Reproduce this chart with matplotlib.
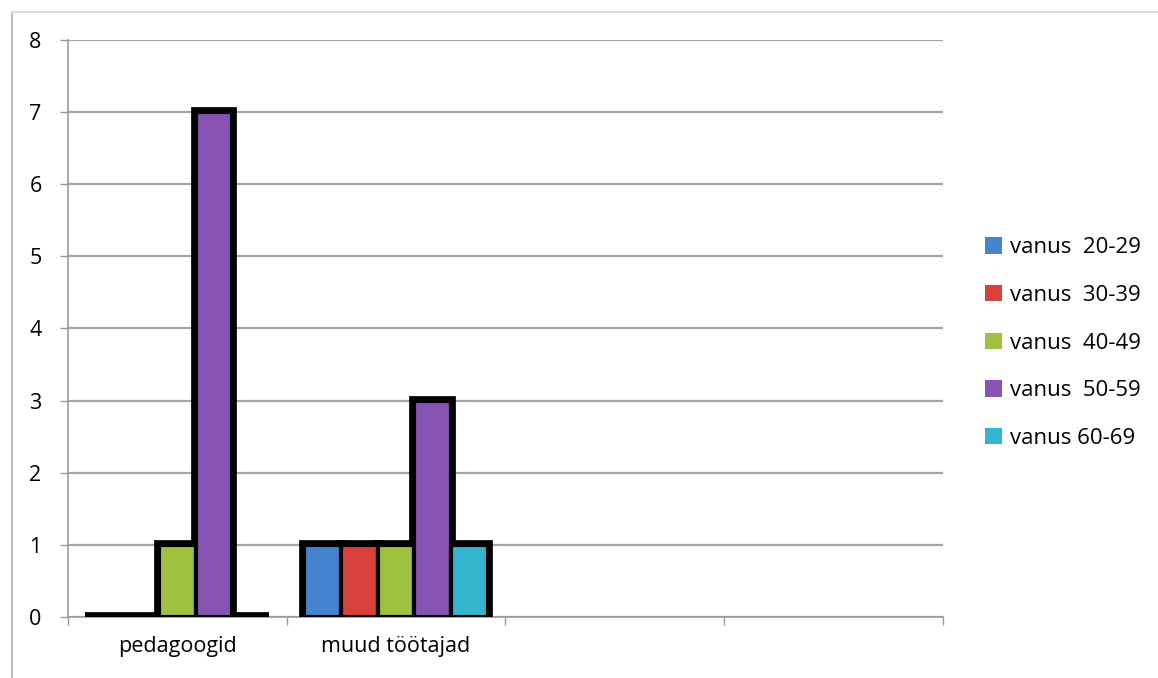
import numpy as np
import matplotlib.pyplot as plt
from matplotlib.lines import Line2D

plt.rcParams['font.family'] = ['Open Sans', 'DejaVu Sans']

# data
categories = ['pedagoogid', 'muud töötajad', '', '']
series_names = ['vanus  20-29', 'vanus  30-39', 'vanus  40-49', 'vanus  50-59', 'vanus 60-69']
values = {
    'vanus  20-29': [0, 1, 0, 0],
    'vanus  30-39': [0, 1, 0, 0],
    'vanus  40-49': [1, 1, 0, 0],
    'vanus  50-59': [7, 3, 0, 0],
    'vanus 60-69': [0, 1, 0, 0],
}
colors = ['#4484d0', '#d93f3b', '#a0c040', '#8754b3', '#35b4ce']
y_ticks = [0, 1, 2, 3, 4, 5, 6, 7, 8]

fig = plt.figure(figsize=(11.58, 6.78), dpi=100)
ax = fig.add_axes([0.0587, 0.09, 0.7556, 0.851])

x = np.arange(len(categories))
# only the first two categories carry bars
n_used = 2
bw = 0.168
for i, name in enumerate(series_names):
    pos = x[:n_used] + (i - 2) * bw
    h = values[name][:n_used]
    # thick black outline round the group, thin dividers between bars
    ax.bar(pos, h, width=bw, color='black', edgecolor='black', linewidth=7, zorder=3)
    ax.bar(pos, h, width=bw, color=colors[i], edgecolor='black', linewidth=3, zorder=4)

ax.set_xlim(-0.5, 3.5)
ax.set_ylim(0, 8)
ax.set_yticks(y_ticks)
ax.set_xticks(x)
ax.set_xticklabels(categories, fontsize=15.5)
ax.set_xticks(np.arange(-0.5, 3.6, 1), minor=True)
ax.tick_params(axis='x', which='major', length=0, pad=14)
ax.tick_params(axis='x', which='minor', length=6, color='#9a9a9a', width=1)
ax.tick_params(axis='y', length=6, color='#9a9a9a', width=1, labelsize=15.5, pad=13)

ax.grid(axis='y', color='#a6a6a6', linewidth=1.6, zorder=0)
for s in ['top', 'right']:
    ax.spines[s].set_visible(False)
for s in ['left', 'bottom']:
    ax.spines[s].set_color('#9a9a9a')
    ax.spines[s].set_linewidth(1.2)

handles = [plt.Rectangle((0, 0), 1, 1, facecolor=c, edgecolor='none') for c in colors]
ax.legend(handles, series_names, loc='center left', bbox_to_anchor=(0.851, 0.494),
          bbox_transform=fig.transFigure, frameon=False, fontsize=16,
          borderpad=0, borderaxespad=0, handlelength=0.75, handleheight=0.75,
          handletextpad=0.35, labelspacing=1.2)

# outer frame lines
fig.add_artist(Line2D([0.0104, 0.0104], [0, 0.982], color='#bdbdbd', linewidth=1.5))
fig.add_artist(Line2D([0.0104, 1.0], [0.982, 0.982], color='#dcdcdc', linewidth=1.5))

fig.savefig('out.png', dpi=100)
